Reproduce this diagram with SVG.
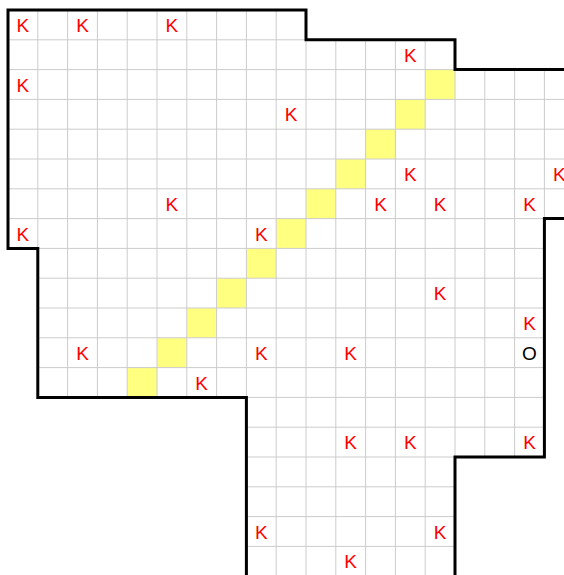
<svg xmlns="http://www.w3.org/2000/svg" width="564" height="575" viewBox="0 0 564 575">
<style>
.g{stroke:#cccccc;stroke-width:1}
.y{fill:#ffff80}
.k{font-family:"Liberation Sans",Arial,sans-serif;font-size:19px;fill:#ff0000;text-anchor:middle}
.o{font-family:"Liberation Sans",Arial,sans-serif;font-size:19px;fill:#000000;text-anchor:middle}
</style>
<defs>
<clipPath id="region">
<polygon points="8,10 306,10 306,39.8 455,39.8 455,69.6 590,69.6 590,218.6 544.4,218.6 544.4,457 455,457 455,600 246.4,600 246.4,397.4 37.8,397.4 37.8,248.4 8,248.4"/>
</clipPath>
</defs>
<rect width="564" height="575" fill="#ffffff"/>
<g id="cells" clip-path="url(#region)">
<rect x="0" y="0" width="600" height="600" fill="#ffffff"/>
<rect class="y" x="425.2" y="69.6" width="29.8" height="29.8"/>
<rect class="y" x="395.4" y="99.4" width="29.8" height="29.8"/>
<rect class="y" x="365.6" y="129.2" width="29.8" height="29.8"/>
<rect class="y" x="335.8" y="159" width="29.8" height="29.8"/>
<rect class="y" x="306" y="188.8" width="29.8" height="29.8"/>
<rect class="y" x="276.2" y="218.6" width="29.8" height="29.8"/>
<rect class="y" x="246.4" y="248.4" width="29.8" height="29.8"/>
<rect class="y" x="216.6" y="278.2" width="29.8" height="29.8"/>
<rect class="y" x="186.8" y="308" width="29.8" height="29.8"/>
<rect class="y" x="157" y="337.8" width="29.8" height="29.8"/>
<rect class="y" x="127.2" y="367.6" width="29.8" height="29.8"/>
<g id="gridlines" class="g">
<line x1="37.8" y1="0" x2="37.8" y2="600"/>
<line x1="67.6" y1="0" x2="67.6" y2="600"/>
<line x1="97.4" y1="0" x2="97.4" y2="600"/>
<line x1="127.2" y1="0" x2="127.2" y2="600"/>
<line x1="157" y1="0" x2="157" y2="600"/>
<line x1="186.8" y1="0" x2="186.8" y2="600"/>
<line x1="216.6" y1="0" x2="216.6" y2="600"/>
<line x1="246.4" y1="0" x2="246.4" y2="600"/>
<line x1="276.2" y1="0" x2="276.2" y2="600"/>
<line x1="306" y1="0" x2="306" y2="600"/>
<line x1="335.8" y1="0" x2="335.8" y2="600"/>
<line x1="365.6" y1="0" x2="365.6" y2="600"/>
<line x1="395.4" y1="0" x2="395.4" y2="600"/>
<line x1="425.2" y1="0" x2="425.2" y2="600"/>
<line x1="455" y1="0" x2="455" y2="600"/>
<line x1="484.8" y1="0" x2="484.8" y2="600"/>
<line x1="514.6" y1="0" x2="514.6" y2="600"/>
<line x1="544.4" y1="0" x2="544.4" y2="600"/>
<line x1="0" y1="39.8" x2="600" y2="39.8"/>
<line x1="0" y1="69.6" x2="600" y2="69.6"/>
<line x1="0" y1="99.4" x2="600" y2="99.4"/>
<line x1="0" y1="129.2" x2="600" y2="129.2"/>
<line x1="0" y1="159" x2="600" y2="159"/>
<line x1="0" y1="188.8" x2="600" y2="188.8"/>
<line x1="0" y1="218.6" x2="600" y2="218.6"/>
<line x1="0" y1="248.4" x2="600" y2="248.4"/>
<line x1="0" y1="278.2" x2="600" y2="278.2"/>
<line x1="0" y1="308" x2="600" y2="308"/>
<line x1="0" y1="337.8" x2="600" y2="337.8"/>
<line x1="0" y1="367.6" x2="600" y2="367.6"/>
<line x1="0" y1="397.4" x2="600" y2="397.4"/>
<line x1="0" y1="427.2" x2="600" y2="427.2"/>
<line x1="0" y1="457" x2="600" y2="457"/>
<line x1="0" y1="486.8" x2="600" y2="486.8"/>
<line x1="0" y1="516.6" x2="600" y2="516.6"/>
<line x1="0" y1="546.4" x2="600" y2="546.4"/>
</g>
</g>
<polygon id="border" points="8,10 306,10 306,39.8 455,39.8 455,69.6 590,69.6 590,218.6 544.4,218.6 544.4,457 455,457 455,600 246.4,600 246.4,397.4 37.8,397.4 37.8,248.4 8,248.4" fill="none" stroke="#000000" stroke-width="3" stroke-linejoin="miter"/>
<g id="labels">
<text class="k" x="22.9" y="31.9">K</text>
<text class="k" x="82.5" y="31.9">K</text>
<text class="k" x="171.9" y="31.9">K</text>
<text class="k" x="410.3" y="61.7">K</text>
<text class="k" x="22.9" y="91.5">K</text>
<text class="k" x="291.1" y="121.3">K</text>
<text class="k" x="410.3" y="180.9">K</text>
<text class="k" x="559.3" y="180.9">K</text>
<text class="k" x="171.9" y="210.7">K</text>
<text class="k" x="380.5" y="210.7">K</text>
<text class="k" x="440.1" y="210.7">K</text>
<text class="k" x="529.5" y="210.7">K</text>
<text class="k" x="22.9" y="240.5">K</text>
<text class="k" x="261.3" y="240.5">K</text>
<text class="k" x="440.1" y="300.1">K</text>
<text class="k" x="529.5" y="329.9">K</text>
<text class="k" x="82.5" y="359.7">K</text>
<text class="k" x="261.3" y="359.7">K</text>
<text class="k" x="350.7" y="359.7">K</text>
<text class="o" x="529.5" y="359.7">O</text>
<text class="k" x="201.7" y="389.5">K</text>
<text class="k" x="350.7" y="449.1">K</text>
<text class="k" x="410.3" y="449.1">K</text>
<text class="k" x="529.5" y="449.1">K</text>
<text class="k" x="261.3" y="538.5">K</text>
<text class="k" x="440.1" y="538.5">K</text>
<text class="k" x="350.7" y="568.3">K</text>
</g>
</svg>
